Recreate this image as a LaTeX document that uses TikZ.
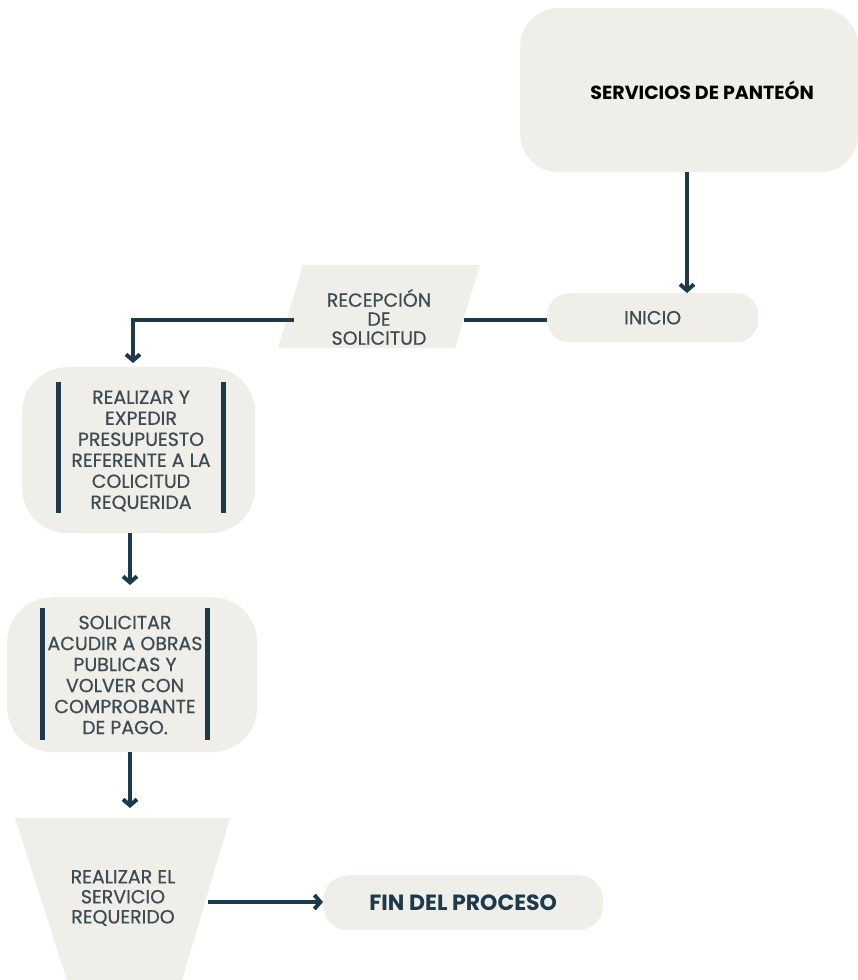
\documentclass[tikz,border=0pt]{standalone}
\usepackage{fontspec}
\setmainfont{Poppins}
\newfontfamily\medfont{Poppins}[FakeBold=0.6]
\usetikzlibrary{arrows.meta}
\definecolor{boxfill}{HTML}{EFEEE9}
\definecolor{arrowc}{HTML}{1D3A4C}
\definecolor{txtc}{HTML}{3D4B52}
\begin{document}
\begin{tikzpicture}[x=1pt,y=-1pt,
  rbox/.style={fill=boxfill, draw=none, anchor=north west, inner sep=0pt, align=center},
  conn/.style={draw=arrowc, line width=4pt},
  arr/.style={conn, -{Straight Barb[length=6pt,width=14pt]}},
  bar/.style={draw=arrowc, line width=5pt},
  boxtext/.style={text=txtc, align=center, font=\medfont\fontsize{19}{21}\selectfont}
]
\useasboundingbox (0,0) rectangle (857,980);
% top box
\node[rbox, rounded corners=38pt, minimum width=338pt, minimum height=164pt, text=black,
  font=\bfseries\fontsize{19}{22}\selectfont] (serv) at (520,8) {\hspace*{26pt}SERVICIOS DE PANTEÓN};
% inicio
\node[rbox, rounded corners=22pt, minimum width=211pt, minimum height=49pt, text=txtc,
  font=\medfont\fontsize{19}{21}\selectfont] (ini) at (547,293) {INICIO};
% parallelogram
\fill[boxfill] (303,265) -- (480,265) -- (455,348) -- (278,348) -- cycle;
\node[boxtext, minimum width=170pt, minimum height=83pt, inner sep=0pt, font=\medfont\fontsize{19}{19}\selectfont] (rec) at (379,317) {RECEPCIÓN\\DE\\SOLICITUD};
% box 2
\node[rbox, rounded corners=45pt, minimum width=233pt, minimum height=166pt] (b2) at (22,367) {};
\draw[bar] (58,382) -- (58,513);
\draw[bar] (223,382) -- (223,513);
\node[boxtext] (t2) at (141,451) {REALIZAR Y\\EXPEDIR\\PRESUPUESTO\\REFERENTE A LA\\COLICITUD\\REQUERIDA};
% box 3
\node[rbox, rounded corners=45pt, minimum width=250pt, minimum height=155pt] (b3) at (7,597) {};
\draw[bar] (42,608) -- (42,740);
\draw[bar] (207,608) -- (207,740);
\node[boxtext] (t3) at (125,675) {SOLICITAR\\ACUDIR A OBRAS\\PUBLICAS Y\\VOLVER CON\\COMPROBANTE\\DE PAGO.};
% trapezoid
\fill[boxfill] (15,818) -- (230,818) -- (182,980) -- (67,980) -- cycle;
\node[boxtext, minimum width=170pt, inner sep=0pt, font=\medfont\fontsize{19}{20}\selectfont] (t4) at (123,898) {REALIZAR EL\\SERVICIO\\REQUERIDO};
% fin
\node[rbox, rounded corners=25pt, minimum width=280pt, minimum height=55pt, text=arrowc,
  font=\bfseries\fontsize{22}{24}\selectfont] (fin) at (323,875) {FIN DEL PROCESO};
% connectors
\coordinate (c1) at (133,320);
\draw[arr] (serv.south -| 687,0) -- (ini.north -| 687,0);
\draw[conn] (ini.west |- c1) -- (rec.east |- c1);
\draw[arr, shorten >=4pt] (rec.west |- c1) -| (b2.north -| c1);
\draw[arr, shorten >=12pt] (b2.south -| 130,0) -- (b3.north -| 130,0);
\draw[arr, shorten >=10pt] (b3.south -| 130,0) -- (130,818);
\draw[arr] (t4.east |- 0,902) -- (fin.west |- 0,902);
\end{tikzpicture}
\end{document}
